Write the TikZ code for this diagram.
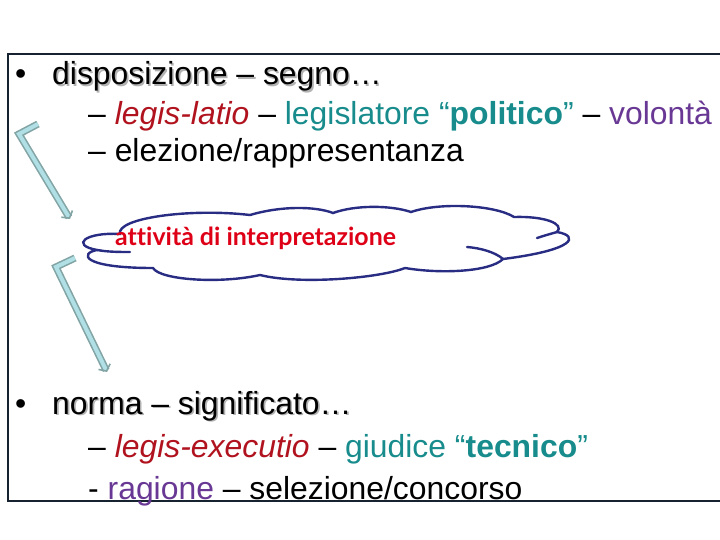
\documentclass[tikz,border=0pt]{standalone}
\usepackage{fontspec}
\setmainfont{Liberation Sans}
\newfontfamily\cloudfont[Ligatures=NoCommon]{Lato}
\usetikzlibrary{arrows.meta}
\definecolor{latinred}{RGB}{176,18,30}
\definecolor{roleteal}{RGB}{24,140,140}
\definecolor{willpurple}{RGB}{104,56,148}
\definecolor{cloudred}{RGB}{222,0,22}
\definecolor{cloudnavy}{RGB}{40,44,130}
\definecolor{framenavy}{RGB}{22,34,48}
\definecolor{shaftfill}{RGB}{176,224,230}
\definecolor{shaftline}{RGB}{130,164,164}
\newcommand{\shadowed}[1]{\makebox[0pt][l]{\hspace{1.6bp}\raisebox{-1.6bp}{\color{black!30}#1}}#1}
\begin{document}
\begin{tikzpicture}[x=1bp, y=-1bp,
  % common options for the text lines:
  line/.style = {anchor=base west, inner sep=0, font=\fontsize{32}{38}\selectfont},
  % common options for the bent arrows:
  bentarrow/.style = {draw=shaftline, line width=1.6bp, double=shaftfill,
              double distance=4bp, line join=miter, -{Straight Barb[length=5bp,width=13bp]}},
  % common options for the cloud:
  puff/.style = {draw=cloudnavy, line width=2.4bp, line cap=round}]
  \useasboundingbox (0,0) rectangle (720,540);
  \draw[framenavy, line width=1.2bp] (8,54) rectangle (730,501);
  % upper block
  \node[line] (b1) at (15,85) {\textbullet};
  \node[line] (L1) at (52,85) {\shadowed{disposizione – segno…}};
  \node[line] (L2) at (88,125) {– \textcolor{latinred}{\textit{legis-latio}} – \textcolor{roleteal}{legislatore “\textbf{politico}”} – \textcolor{willpurple}{volontà}};
  \node[line] (L3) at (88,162) {– elezione/rappresentanza};
  % lower block
  \node[line] (b2) at (15,414) {\textbullet};
  \node[line] (L4) at (52,414) {\shadowed{norma – significato…}};
  \node[line] (L5) at (88,457) {– \textcolor{latinred}{\textit{legis-executio}} – \textcolor{roleteal}{giudice “\textbf{tecnico}”}};
  \node[line] (L6) at (88,499) {- \textcolor{willpurple}{ragione} – selezione/concorso};
  % cloud
  \draw[puff] (120,234) .. controls (116,218) and (190,208) .. (250,215)
    .. controls (280,206) and (315,206) .. (333,213)
    .. controls (355,205) and (390,205) .. (411,212)
    .. controls (440,202) and (495,205) .. (514,217)
    .. controls (545,216) and (565,224) .. (557,232)
    .. controls (580,236) and (575,250) .. (503,259)
    .. controls (490,272) and (440,274) .. (405,268)
    .. controls (380,278) and (300,285) .. (260,275)
    .. controls (220,284) and (160,280) .. (153,268)
    .. controls (80,268) and (80,253) .. (97,250)
    .. controls (70,245) and (85,232) .. cycle;
  \draw[puff] (557,232) .. controls (550,234) and (543,236) .. (537,238);
  \draw[puff] (503,259) .. controls (495,252) and (480,248) .. (467,247);
  \draw[puff] (97,250) .. controls (108,252) and (120,252) .. (130,252);
  \node[anchor=base west, inner sep=0, text=cloudred, font=\cloudfont\bfseries\fontsize{25}{30}\selectfont] (act) at (115,246) {attività di interpretazione};
  % arrows
  \coordinate (a1s) at (38,124);
  \coordinate (a1c) at (19,134);
  \coordinate (a1e) at (70,219);
  \coordinate (a2s) at (75,258);
  \coordinate (a2c) at (56,267);
  \coordinate (a2e) at (107,372);
  \draw[bentarrow] (a1s) -- (a1c) -- (a1e);
  \draw[bentarrow] (a2s) -- (a2c) -- (a2e);
\end{tikzpicture}
\end{document}
